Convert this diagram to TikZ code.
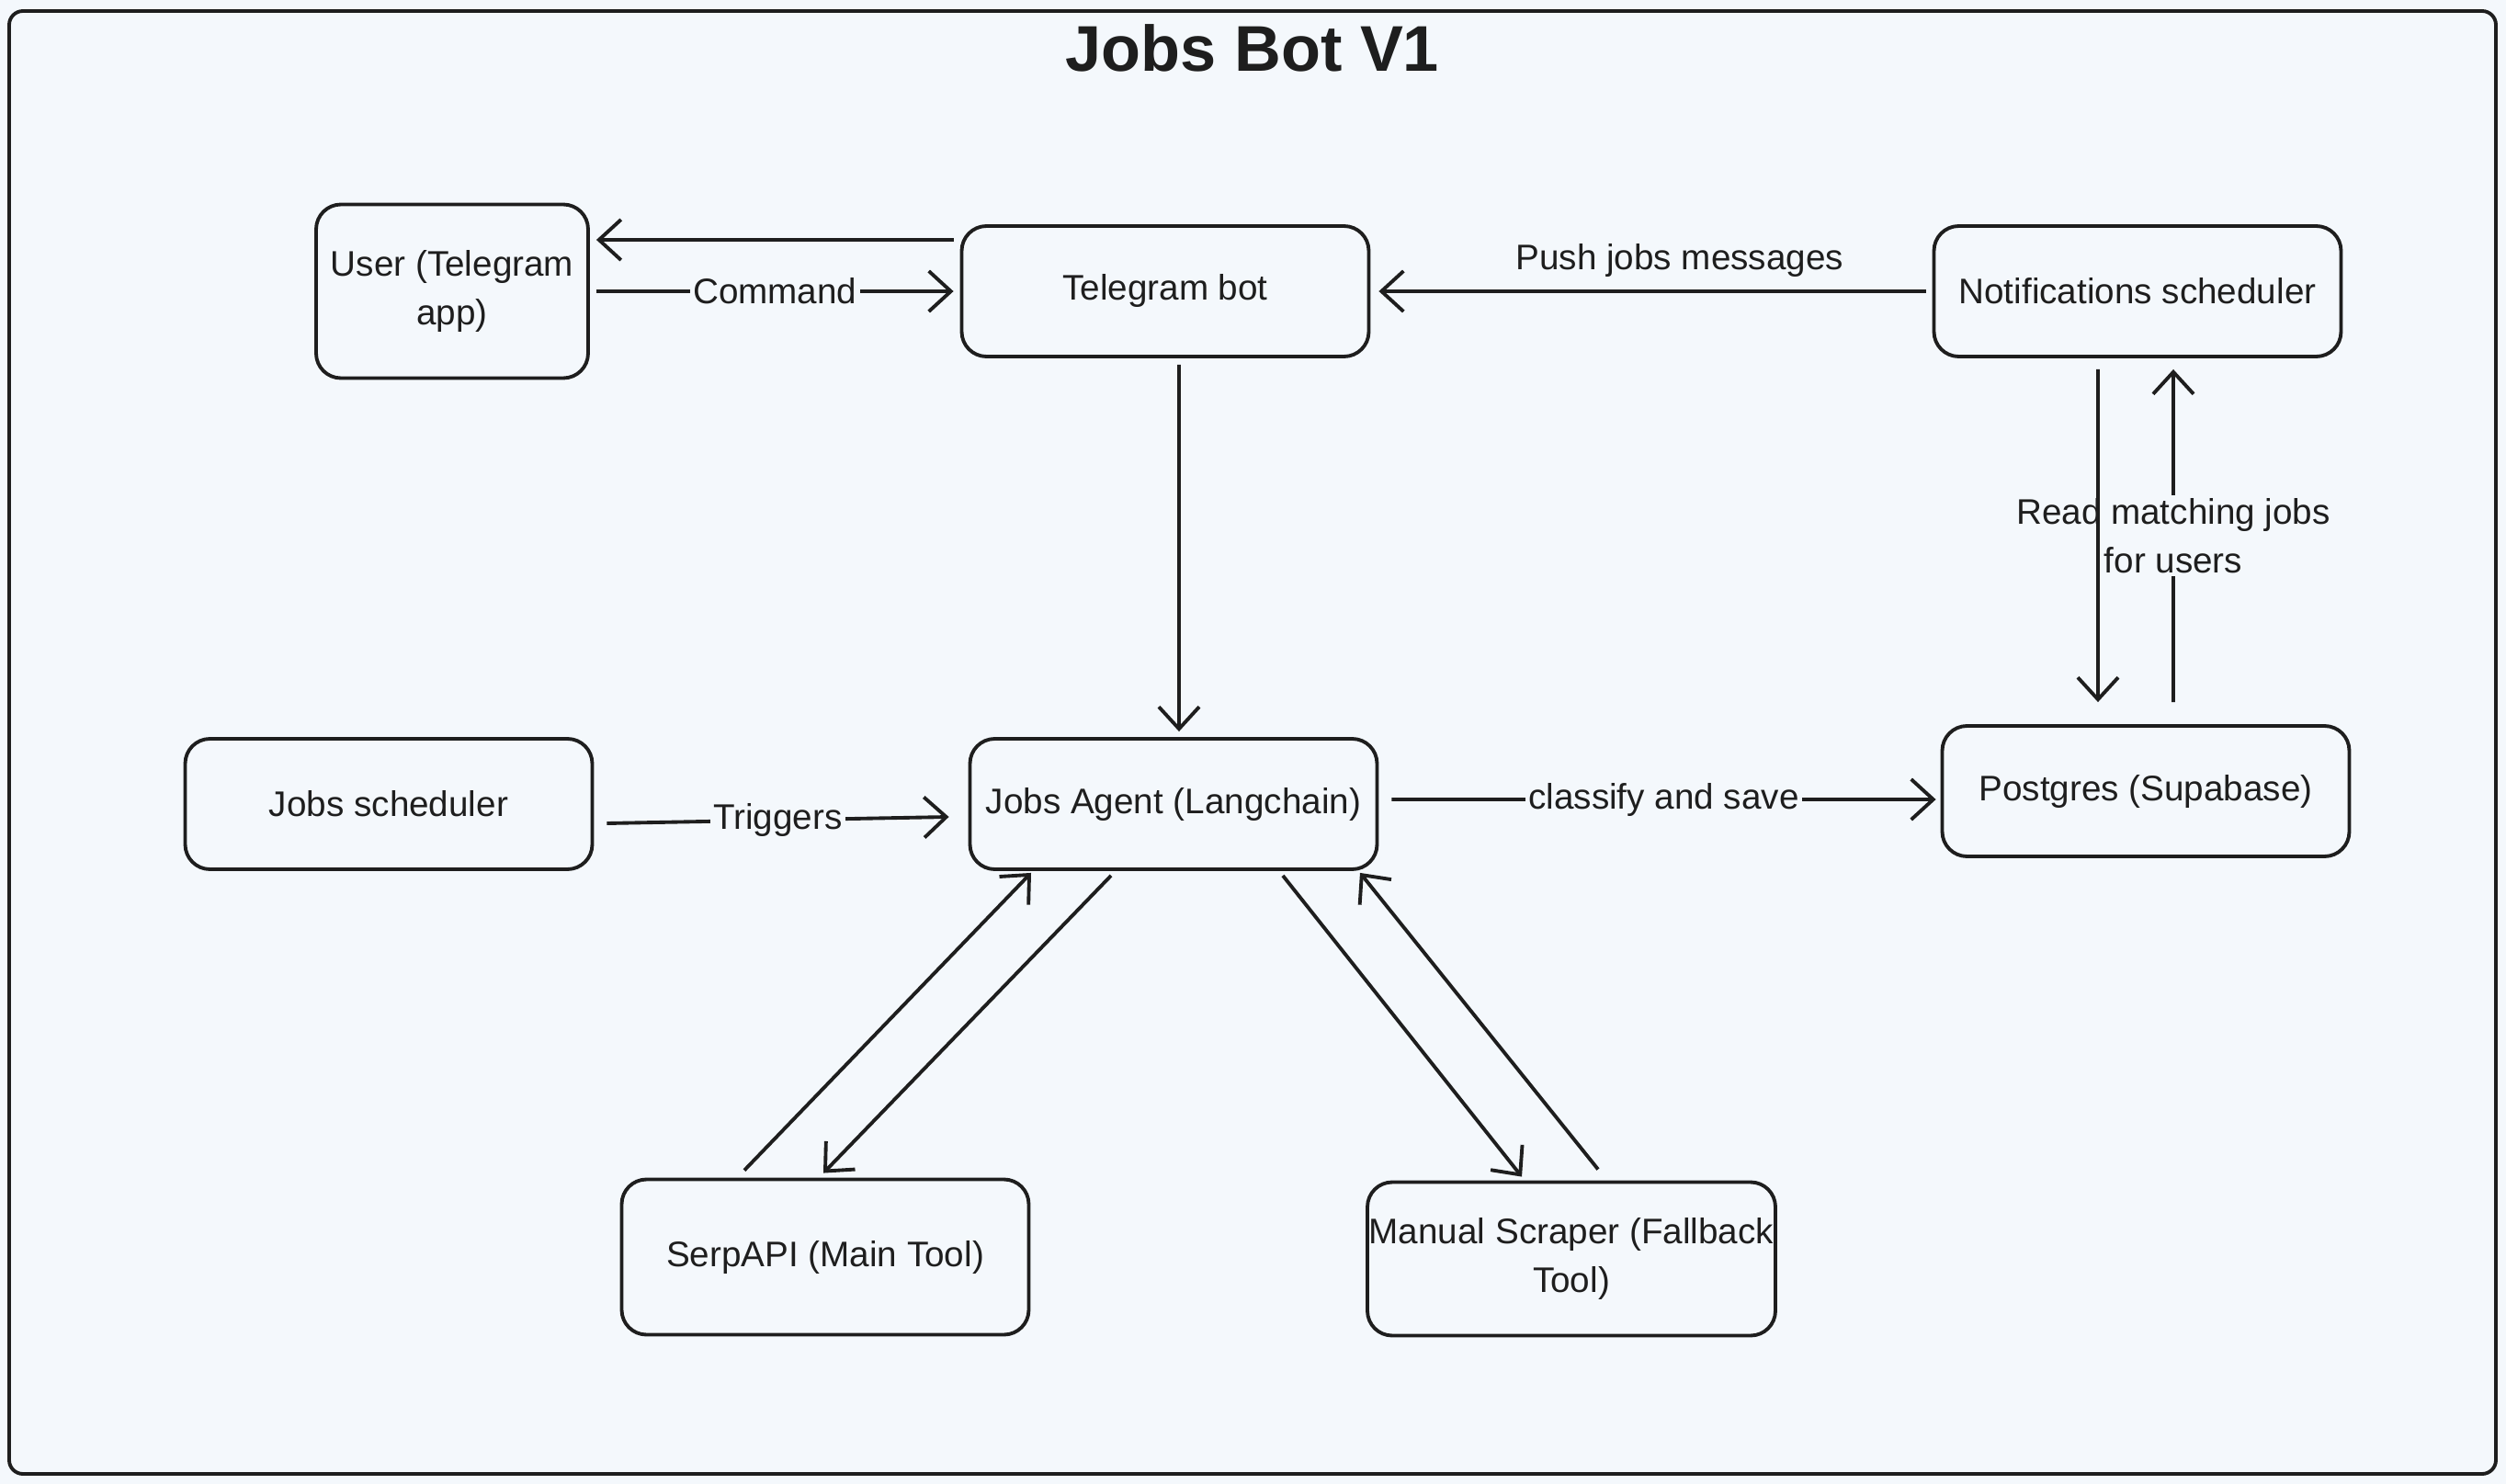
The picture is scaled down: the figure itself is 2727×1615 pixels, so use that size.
\documentclass[tikz,border=0pt]{standalone}
\usepackage{fontspec}
\setmainfont{Liberation Sans}
\usetikzlibrary{arrows.meta}
\definecolor{bgblue}{HTML}{F4F8FC}
\definecolor{ink}{HTML}{1E1E1E}
\begin{document}
\begin{tikzpicture}[x=0.1mm,y=-0.1mm,
  box/.style={draw=ink, line width=1.1pt, rounded corners=2.7mm, align=center, minimum width=44.3mm, minimum height=14.2mm, inner sep=0.5pt, text=ink, font=\fontsize{11}{15}\selectfont},
  arr/.style={draw=ink, line width=1.1pt, -{Straight Barb[length=2.4mm,width=4.4mm]}},
  lbl/.style={fill=bgblue, inner sep=1pt, align=center, text=ink, font=\fontsize{11}{15}\selectfont}]
\useasboundingbox (0,0) rectangle (2727,1615);
\fill [bgblue] (0,0) rectangle (2727,1615);
\draw [draw=ink, line width=1.1pt, rounded corners=1.5mm] (10,12) rectangle (2716,1604);
\node [text=ink, font=\bfseries\fontsize{20}{24}\selectfont] (title) at (1363,52) {Jobs Bot V1};
\node [box, minimum width=29.6mm, minimum height=18.9mm] (user) at (492,317) {User (Telegram\\app)};
\node [box] (bot) at (1268,317) {Telegram bot};
\node [box] (notif) at (2326,317) {Notifications scheduler};
\node [box] (sched) at (423,875) {Jobs scheduler};
\node [box] (agent) at (1277,875) {Jobs Agent (Langchain)};
\node [box] (pg) at (2335,861) {Postgres (Supabase)};
\node [box, minimum height=16.9mm] (serp) at (898,1368) {SerpAPI (Main Tool)};
\node [box, minimum height=16.7mm] (scraper) at (1710,1370) {Manual Scraper (Fallback\\Tool)};
\draw [arr] ([xshift=-0.7mm,yshift=5.6mm]bot.west) -- ([xshift=0.7mm,yshift=5.6mm]user.east);
\draw [arr] ([xshift=0.7mm]user.east) -- node[lbl] {Command} ([xshift=-0.7mm]bot.west);
\draw [arr] ([xshift=-0.7mm]notif.west) -- node[lbl, above, pos=0.45, yshift=1mm] {Push jobs messages} ([xshift=0.9mm]bot.east);
\draw [arr] ([xshift=1.5mm,yshift=-0.7mm]bot.south) -- ([xshift=0.6mm,yshift=0.6mm]agent.north);
\draw [arr] ([xshift=3mm,yshift=2.4mm]pg.north) -- node[lbl] {Read matching jobs\\for users} ([xshift=3.9mm,yshift=-1.2mm]notif.south);
\draw [arr] ([xshift=-4.3mm,yshift=-1.2mm]notif.south) -- ([xshift=-5.2mm,yshift=2.4mm]pg.north);
\draw [arr] ([xshift=1.4mm,yshift=-2.1mm]sched.east) -- node[lbl] {Triggers} ([xshift=-2.1mm,yshift=-1.4mm]agent.west);
\draw [arr] ([xshift=1.4mm,yshift=0.5mm]agent.east) -- node[lbl] {classify and save} ([xshift=-0.5mm,yshift=-0.9mm]pg.west);
\draw [arr] ([xshift=-8.8mm,yshift=0.8mm]serp.north) -- ([xshift=-15.5mm,yshift=-0.2mm]agent.south);
\draw [arr] ([xshift=-6.8mm,yshift=-0.5mm]agent.south) -- ([xshift=-0.2mm,yshift=0.5mm]serp.north);
\draw [arr] ([xshift=11.9mm,yshift=-0.5mm]agent.south) -- ([xshift=-5.4mm,yshift=0.4mm]scraper.north);
\draw [arr] ([xshift=2.9mm,yshift=1.2mm]scraper.north) -- ([xshift=20.3mm,yshift=-0.2mm]agent.south);
\end{tikzpicture}
\end{document}
